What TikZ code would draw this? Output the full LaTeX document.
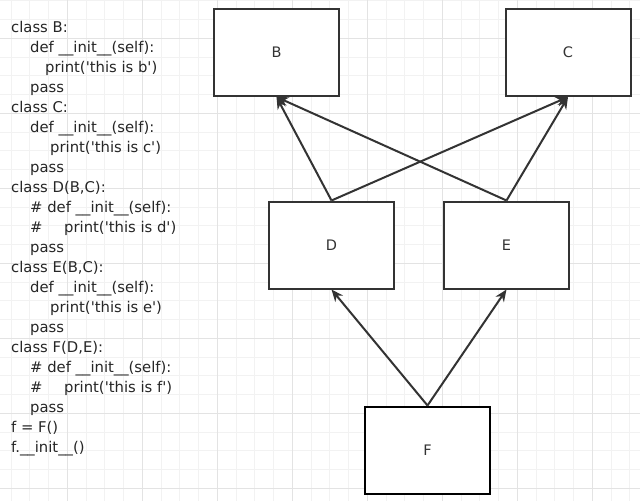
\documentclass[tikz,border=0pt]{standalone}
\usepackage{fontspec}
\setmainfont{DejaVu Sans}
\usepackage{tikz}
\usetikzlibrary{arrows.meta}
\definecolor{gridminor}{HTML}{F2F2F2}
\definecolor{gridmajor}{HTML}{E3E3E3}
\definecolor{boxline}{HTML}{333333}
\newcommand{\qt}{\textquotesingle}

\begin{document}
\begin{tikzpicture}[
  x=1pt, y=-1pt,
  classbox/.style={draw=boxline, fill=white, line width=2pt, minimum width=125pt,
    minimum height=87pt, font=\fontsize{14.5}{16}\selectfont\color{boxline}},
  inherit/.style={draw=boxline, line width=2pt, -{Stealth[length=12pt,width=10pt]}},
  codeline/.style={anchor=base west, inner sep=0pt, font=\fontsize{14.8}{16}\selectfont\color{black!85}},
]
\useasboundingbox (0,0) rectangle (640,501);
% background and grid (pixel coordinates, y downwards)
\fill[white] (0,0) rectangle (640,501);
\foreach \k in {0,...,33} {
  \draw[gridminor, line width=0.8pt] (11.05+\k*18.75,0) -- (11.05+\k*18.75,501);
}
\foreach \k in {0,...,26} {
  \draw[gridminor, line width=0.8pt] (0,0.8+\k*18.75) -- (640,0.8+\k*18.75);
}
\foreach \k in {0,...,7} {
  \draw[gridmajor, line width=1pt] (67.3+\k*75,0) -- (67.3+\k*75,501);
}
\foreach \k in {0,...,6} {
  \draw[gridmajor, line width=1pt] (0,38.3+\k*75) -- (640,38.3+\k*75);
}

% source listing
\foreach \r/\x/\t in {%
  1/11/{class B:},
  2/30/{def \_\_init\_\_(self):},
  3/45/{print(\qt this is b\qt)},
  4/30/{pass},
  5/11/{class C:},
  6/30/{def \_\_init\_\_(self):},
  7/50/{print(\qt this is c\qt)},
  8/30/{pass},
  9/11/{class D(B,C):},
  10/30/{\# def \_\_init\_\_(self):},
  11/30/{\#},
  11/64/{print(\qt this is d\qt)},
  12/30/{pass},
  13/11/{class E(B,C):},
  14/30/{def \_\_init\_\_(self):},
  15/50/{print(\qt this is e\qt)},
  16/30/{pass},
  17/11/{class F(D,E):},
  18/30/{\# def \_\_init\_\_(self):},
  19/30/{\#},
  19/64/{print(\qt this is f\qt)},
  20/30/{pass},
  21/11/{f = F()},
  22/11/{f.\_\_init\_\_()}%
} {
  \pgfmathsetmacro{\yb}{32+20*(\r-1)}
  \node[codeline] (code\r-\x) at (\x,\yb) {\t};
}

% class hierarchy
\node[classbox] (B) at (276.5,52.5) {B};
\node[classbox] (C) at (568,52.5) {C};
\node[classbox] (D) at (331.5,245) {D};
\node[classbox] (E) at (506.5,245) {E};
\node[classbox, draw=black] (F) at (427.5,450) {F};

\draw[inherit] (D.north) -- (B.south);
\draw[inherit] (D.north) -- (C.south);
\draw[inherit] (E.north) -- (B.south);
\draw[inherit] (E.north) -- (C.south);
\draw[inherit] (F.north) -- (D.south);
\draw[inherit] (F.north) -- (E.south);
\end{tikzpicture}
\end{document}
